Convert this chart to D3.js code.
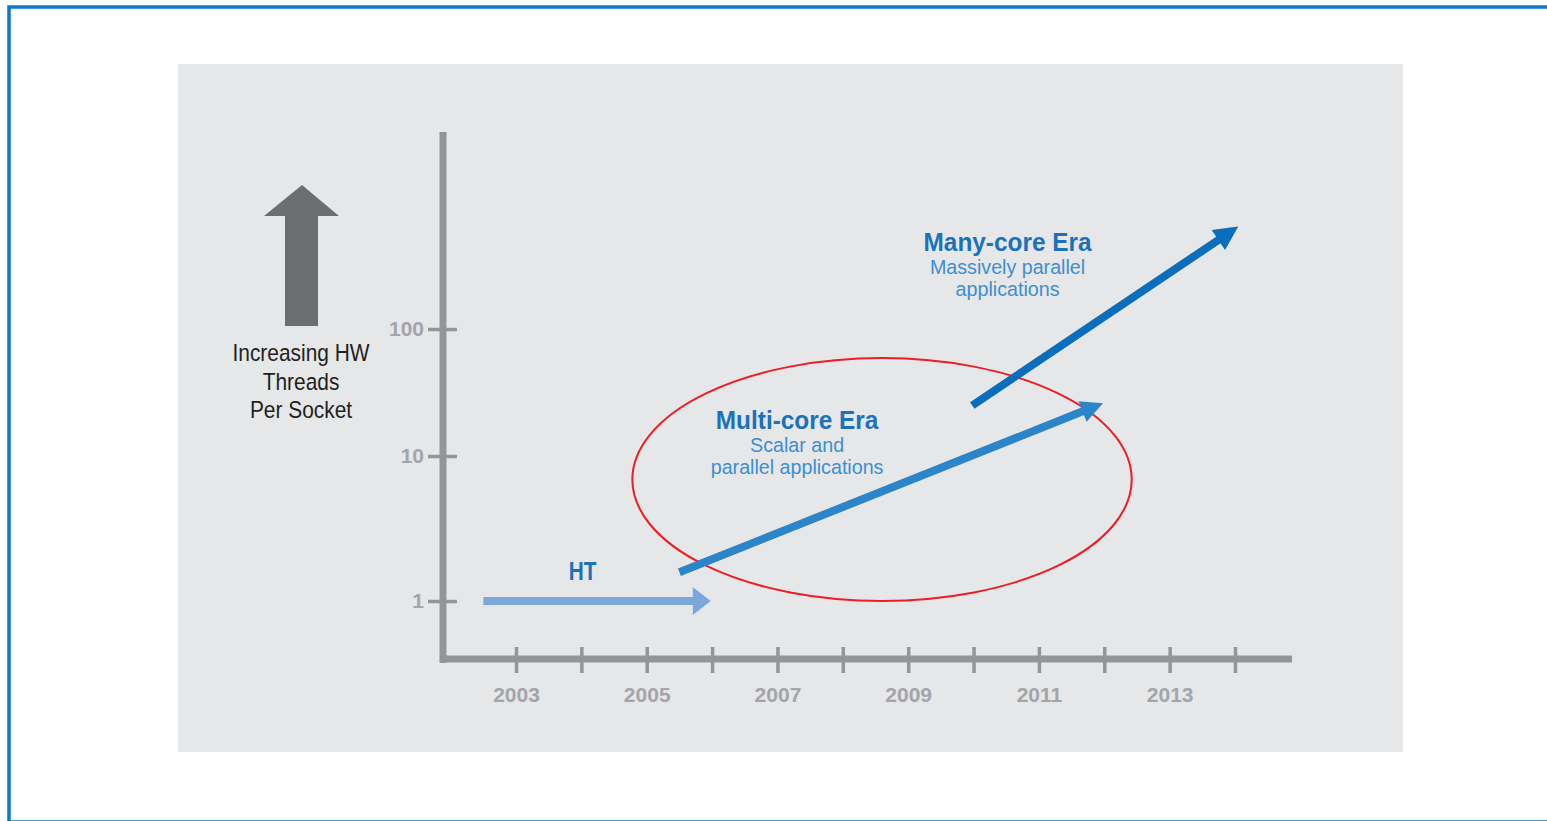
<!DOCTYPE html>
<html>
<head>
<meta charset="utf-8">
<script src="https://cdn.jsdelivr.net/npm/d3@7"></script>
<style>
  body { margin: 0; background: #fff; }
  text { font-family: "Liberation Sans", Arial, sans-serif; }
  .axis text { font-weight: bold; font-size: 21px; fill: #a3a5a8; }
  .axis line { stroke: #939598; stroke-width: 3.5; }
</style>
</head>
<body>
<div id="chart"></div>
<script>
// tick values
var tickYears = [2003, 2004, 2005, 2006, 2007, 2008, 2009, 2010, 2011, 2012, 2013, 2014];
var yearLabels = [2003, 2005, 2007, 2009, 2011, 2013];
var threadTicks = [1, 10, 100];

// the three eras (arrows)
var eraNames = ["HT", "Multi-core Era", "Many-core Era"];
var eraSub1 = ["", "Scalar and", "Massively parallel"];
var eraSub2 = ["", "parallel applications", "applications"];
var eraStartYear = [2002.5, 2005.5, 2009.98];
var eraEndYear = [2005.98, 2011.98, 2014.05];
var eraStartThreads = [1, 1.58, 25];
var eraEndThreads = [1, 26, 640];
// where the era label sits (year, threads)
var labelYear = [2004.02, 2007.3, 2010.52];
var labelThreads = [1.4, 16.3, 410];

// red highlight ellipse, in data units
var ringYears = [2004.78, 2012.42];
var ringThreads = [1.0, 59];

var svgWidth = 1547;
var svgHeight = 821;

var svg = d3.select("#chart")
  .append("svg")
  .attr("width", svgWidth)
  .attr("height", svgHeight);

// draws a horizontally squeezed line of text (the source font is a condensed face)
function label(px, py, str, size, weight, fill, sx) {
  svg.append("g")
    .attr("transform", `translate(${px}, ${py}) scale(${sx}, 1)`)
    .append("text")
    .attr("text-anchor", "middle")
    .attr("font-size", size)
    .attr("font-weight", weight)
    .attr("fill", fill)
    .text(str);
}

// outer blue frame
svg.append("rect")
  .attr("x", 9).attr("y", 7)
  .attr("width", 1600).attr("height", 815)
  .attr("fill", "#fff")
  .attr("stroke", "#0a7ad0")
  .attr("stroke-width", 3.5);

// gray panel
svg.append("rect")
  .attr("x", 178).attr("y", 64)
  .attr("width", 1225).attr("height", 688)
  .attr("fill", "#e6e7e8");

var x = d3.scaleLinear().domain([2003, 2014]).range([516, 1235]);
var y = d3.scaleLog().domain([1, 10, 100]).range([601, 456, 329]);

var axisX = 443, axisY = 659;

// axis lines
svg.append("line")
  .attr("x1", axisX).attr("x2", axisX)
  .attr("y1", 132).attr("y2", axisY + 4)
  .attr("stroke", "#939598").attr("stroke-width", 7);
svg.append("line")
  .attr("x1", axisX - 3).attr("x2", 1292)
  .attr("y1", axisY).attr("y2", axisY)
  .attr("stroke", "#939598").attr("stroke-width", 7);

// x ticks
var xAxis = svg.append("g")
  .attr("class", "axis")
  .attr("transform", `translate(0, ${axisY - 12})`)
  .call(d3.axisBottom(x)
    .tickValues(tickYears)
    .tickSize(26)
    .tickPadding(14)
    .tickFormat(d => yearLabels.indexOf(d) >= 0 ? d : ""));
xAxis.select(".domain").remove();

// y ticks
var yAxis = svg.append("g")
  .attr("class", "axis")
  .attr("transform", `translate(${axisX + 14}, 0)`)
  .call(d3.axisLeft(y)
    .tickValues(threadTicks)
    .tickSize(29)
    .tickPadding(4)
    .tickFormat(d3.format("d")));
yAxis.select(".domain").remove();

// gray "increasing" arrow on the left
svg.append("polygon")
  .attr("points", [[285, 326], [285, 216], [264, 216], [302, 185], [339, 216], [318, 216], [318, 326]].join(" "))
  .attr("fill", "#6d6e71");

["Increasing HW", "Threads", "Per Socket"].forEach(function(t, i) {
  label(301, 361 + i * 28.5, t, 23.5, "normal", "#231f20", 0.89);
});

// red ellipse
svg.append("ellipse")
  .attr("cx", (x(ringYears[0]) + x(ringYears[1])) / 2)
  .attr("cy", (y(ringThreads[0]) + y(ringThreads[1])) / 2)
  .attr("rx", (x(ringYears[1]) - x(ringYears[0])) / 2)
  .attr("ry", (y(ringThreads[0]) - y(ringThreads[1])) / 2)
  .attr("fill", "none")
  .attr("stroke", "#ee1c24")
  .attr("stroke-width", 2);

// era arrows
var arrowColors = ["#7ba7d9", "#2a86c8", "#0a6ebd"];
var headLen = [18, 22, 24];
var headHalf = [14, 11, 12];

eraNames.forEach(function(name, i) {
  var x0 = x(eraStartYear[i]), y0 = y(eraStartThreads[i]);
  var x1 = x(eraEndYear[i]), y1 = y(eraEndThreads[i]);
  var dx = x1 - x0, dy = y1 - y0;
  var len = Math.sqrt(dx * dx + dy * dy);
  var ux = dx / len, uy = dy / len;
  var bx = x1 - ux * headLen[i], by = y1 - uy * headLen[i];
  svg.append("line")
    .attr("x1", x0).attr("y1", y0)
    .attr("x2", bx + ux).attr("y2", by + uy)
    .attr("stroke", arrowColors[i])
    .attr("stroke-width", 8);
  svg.append("polygon")
    .attr("points", [[x1, y1],
      [bx - uy * headHalf[i], by + ux * headHalf[i]],
      [bx + uy * headHalf[i], by - ux * headHalf[i]]].join(" "))
    .attr("fill", arrowColors[i]);
});

// era labels
eraNames.forEach(function(name, i) {
  var lx = x(labelYear[i]), ly = y(labelThreads[i]);
  if (i === 0) {
    label(lx, ly, name, 26, "bold", "#1b72bb", 0.8);
  } else {
    label(lx, ly, name, 26.5, "bold", "#1b72bb", 0.92);
    label(lx, ly + 22.5, eraSub1[i], 20.5, "normal", "#3b8fd3", 0.96);
    label(lx, ly + 45, eraSub2[i], 20.5, "normal", "#3b8fd3", 0.96);
  }
});
</script>
</body>
</html>
